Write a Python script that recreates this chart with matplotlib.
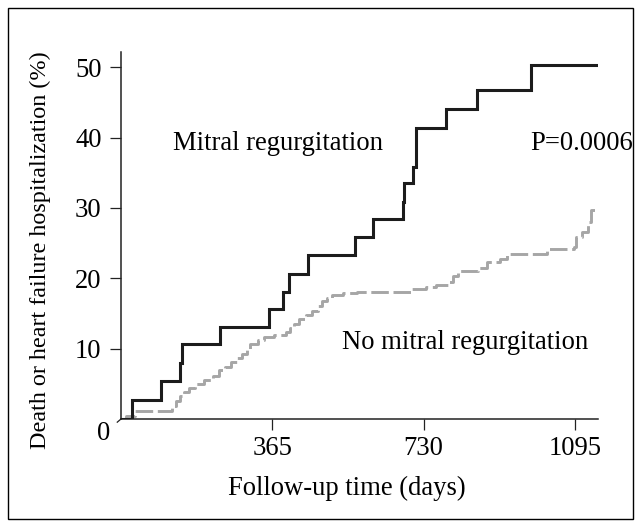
import matplotlib
matplotlib.use("Agg")
import matplotlib.pyplot as plt
from matplotlib.patches import Rectangle

# Mitral regurgitation: event times (days) and cumulative incidence (%)
mr_days = [0, 27, 96, 142, 146, 239, 357, 392, 405, 452, 565, 609, 681, 683, 705, 712, 784, 858, 989]
mr_vals = [0, 2.7, 5.4, 7.9, 10.6, 13.1, 15.6, 18.0, 20.6, 23.3, 25.8, 28.4, 30.8, 33.5, 35.8, 41.3, 44.1, 46.8, 50.3]
mr_end = 1152

# No mitral regurgitation
nomr_days = [0, 12, 34, 122, 132, 142, 152, 165, 178, 200, 222, 236, 250, 265, 280, 292, 305,
             312, 330, 345, 370, 398, 408, 418, 430, 446, 460, 476, 486, 496, 510, 535, 570,
             700, 735, 760, 792, 800, 812, 862, 882, 915, 932, 1028, 1092, 1098, 1112, 1128, 1134]
nomr_vals = [0, 0.4, 1.1, 1.8, 2.5, 3.2, 3.8, 4.4, 5.0, 5.5, 6.1, 6.9, 7.4, 8.1, 8.7, 9.2, 9.8,
             10.6, 11.2, 11.6, 11.9, 12.3, 12.9, 13.5, 14.2, 14.8, 15.3, 16.1, 16.7, 17.2, 17.6, 17.9, 18.1,
             18.5, 18.8, 19.0, 19.5, 20.3, 21.1, 21.5, 22.3, 22.8, 23.4, 24.1, 24.5, 25.8, 26.6, 28.0, 29.7]
nomr_end = 1148

x_ticks = [365, 730, 1095]
y_ticks = [10, 20, 30, 40, 50]

plt.rcParams['font.family'] = ['Liberation Serif', 'DejaVu Serif']
fs = 19.2

W, H = 641, 527
fig = plt.figure(figsize=(W / 100, H / 100), dpi=100)
ax = fig.add_axes([121 / W, 1 - 419 / H, 477 / W, 367.3 / H])

ax.step(mr_days + [mr_end], mr_vals + [mr_vals[-1]], where='post',
        color='#1c1c1c', lw=2.2, solid_joinstyle='miter', zorder=3)
ax.step(nomr_days + [nomr_end], nomr_vals + [nomr_vals[-1]], where='post',
        color='#a6a6a6', lw=2.1, linestyle=(0, (6, 1.6)), zorder=2)

ax.set_xlim(0, 1151)
ax.set_ylim(0, 52.2)
ax.set_xticks(x_ticks)
ax.set_yticks(y_ticks)
ax.tick_params(axis='both', labelsize=fs, length=8, width=0.9, color='#222222', direction='out')
ax.tick_params(axis='y', pad=6)
ax.tick_params(axis='x', pad=4)
for s in ['top', 'right']:
    ax.spines[s].set_visible(False)
for s in ['left', 'bottom']:
    ax.spines[s].set_linewidth(1.1)
    ax.spines[s].set_color('#222222')

# zero label sits below the corner
ax.text(-26, -3.0, '0', fontsize=fs, ha='right', va='baseline', clip_on=False)
ax.plot([0, -9], [0, -0.45], color='#222222', lw=0.9, clip_on=False)

ax.set_xlabel('Follow-up time (days)', fontsize=fs)
ax.xaxis.set_label_coords((346.7 - 121) / 477, (419 - 488) / 367.3)
ax.xaxis.label.set_va('center')
ax.set_ylabel('Death or heart failure hospitalization (%)', fontsize=17.4)
ax.yaxis.set_label_coords((40 - 121) / 477, (419 - 250) / 367.3)
ax.yaxis.label.set_va('center')

ax.text(125, 38.2, 'Mitral regurgitation', fontsize=fs, va='baseline')
ax.text(987, 38.2, 'P=0.0006', fontsize=fs, va='baseline')
ax.text(533, 10.0, 'No mitral regurgitation', fontsize=fs, va='baseline')

fig.patches.append(Rectangle((7.5 / W, 1 - 519 / H), (633 - 7.5) / W, (519 - 8) / H,
                             transform=fig.transFigure, fill=False, lw=1.0, ec='black'))

fig.savefig('out.png', dpi=100)
